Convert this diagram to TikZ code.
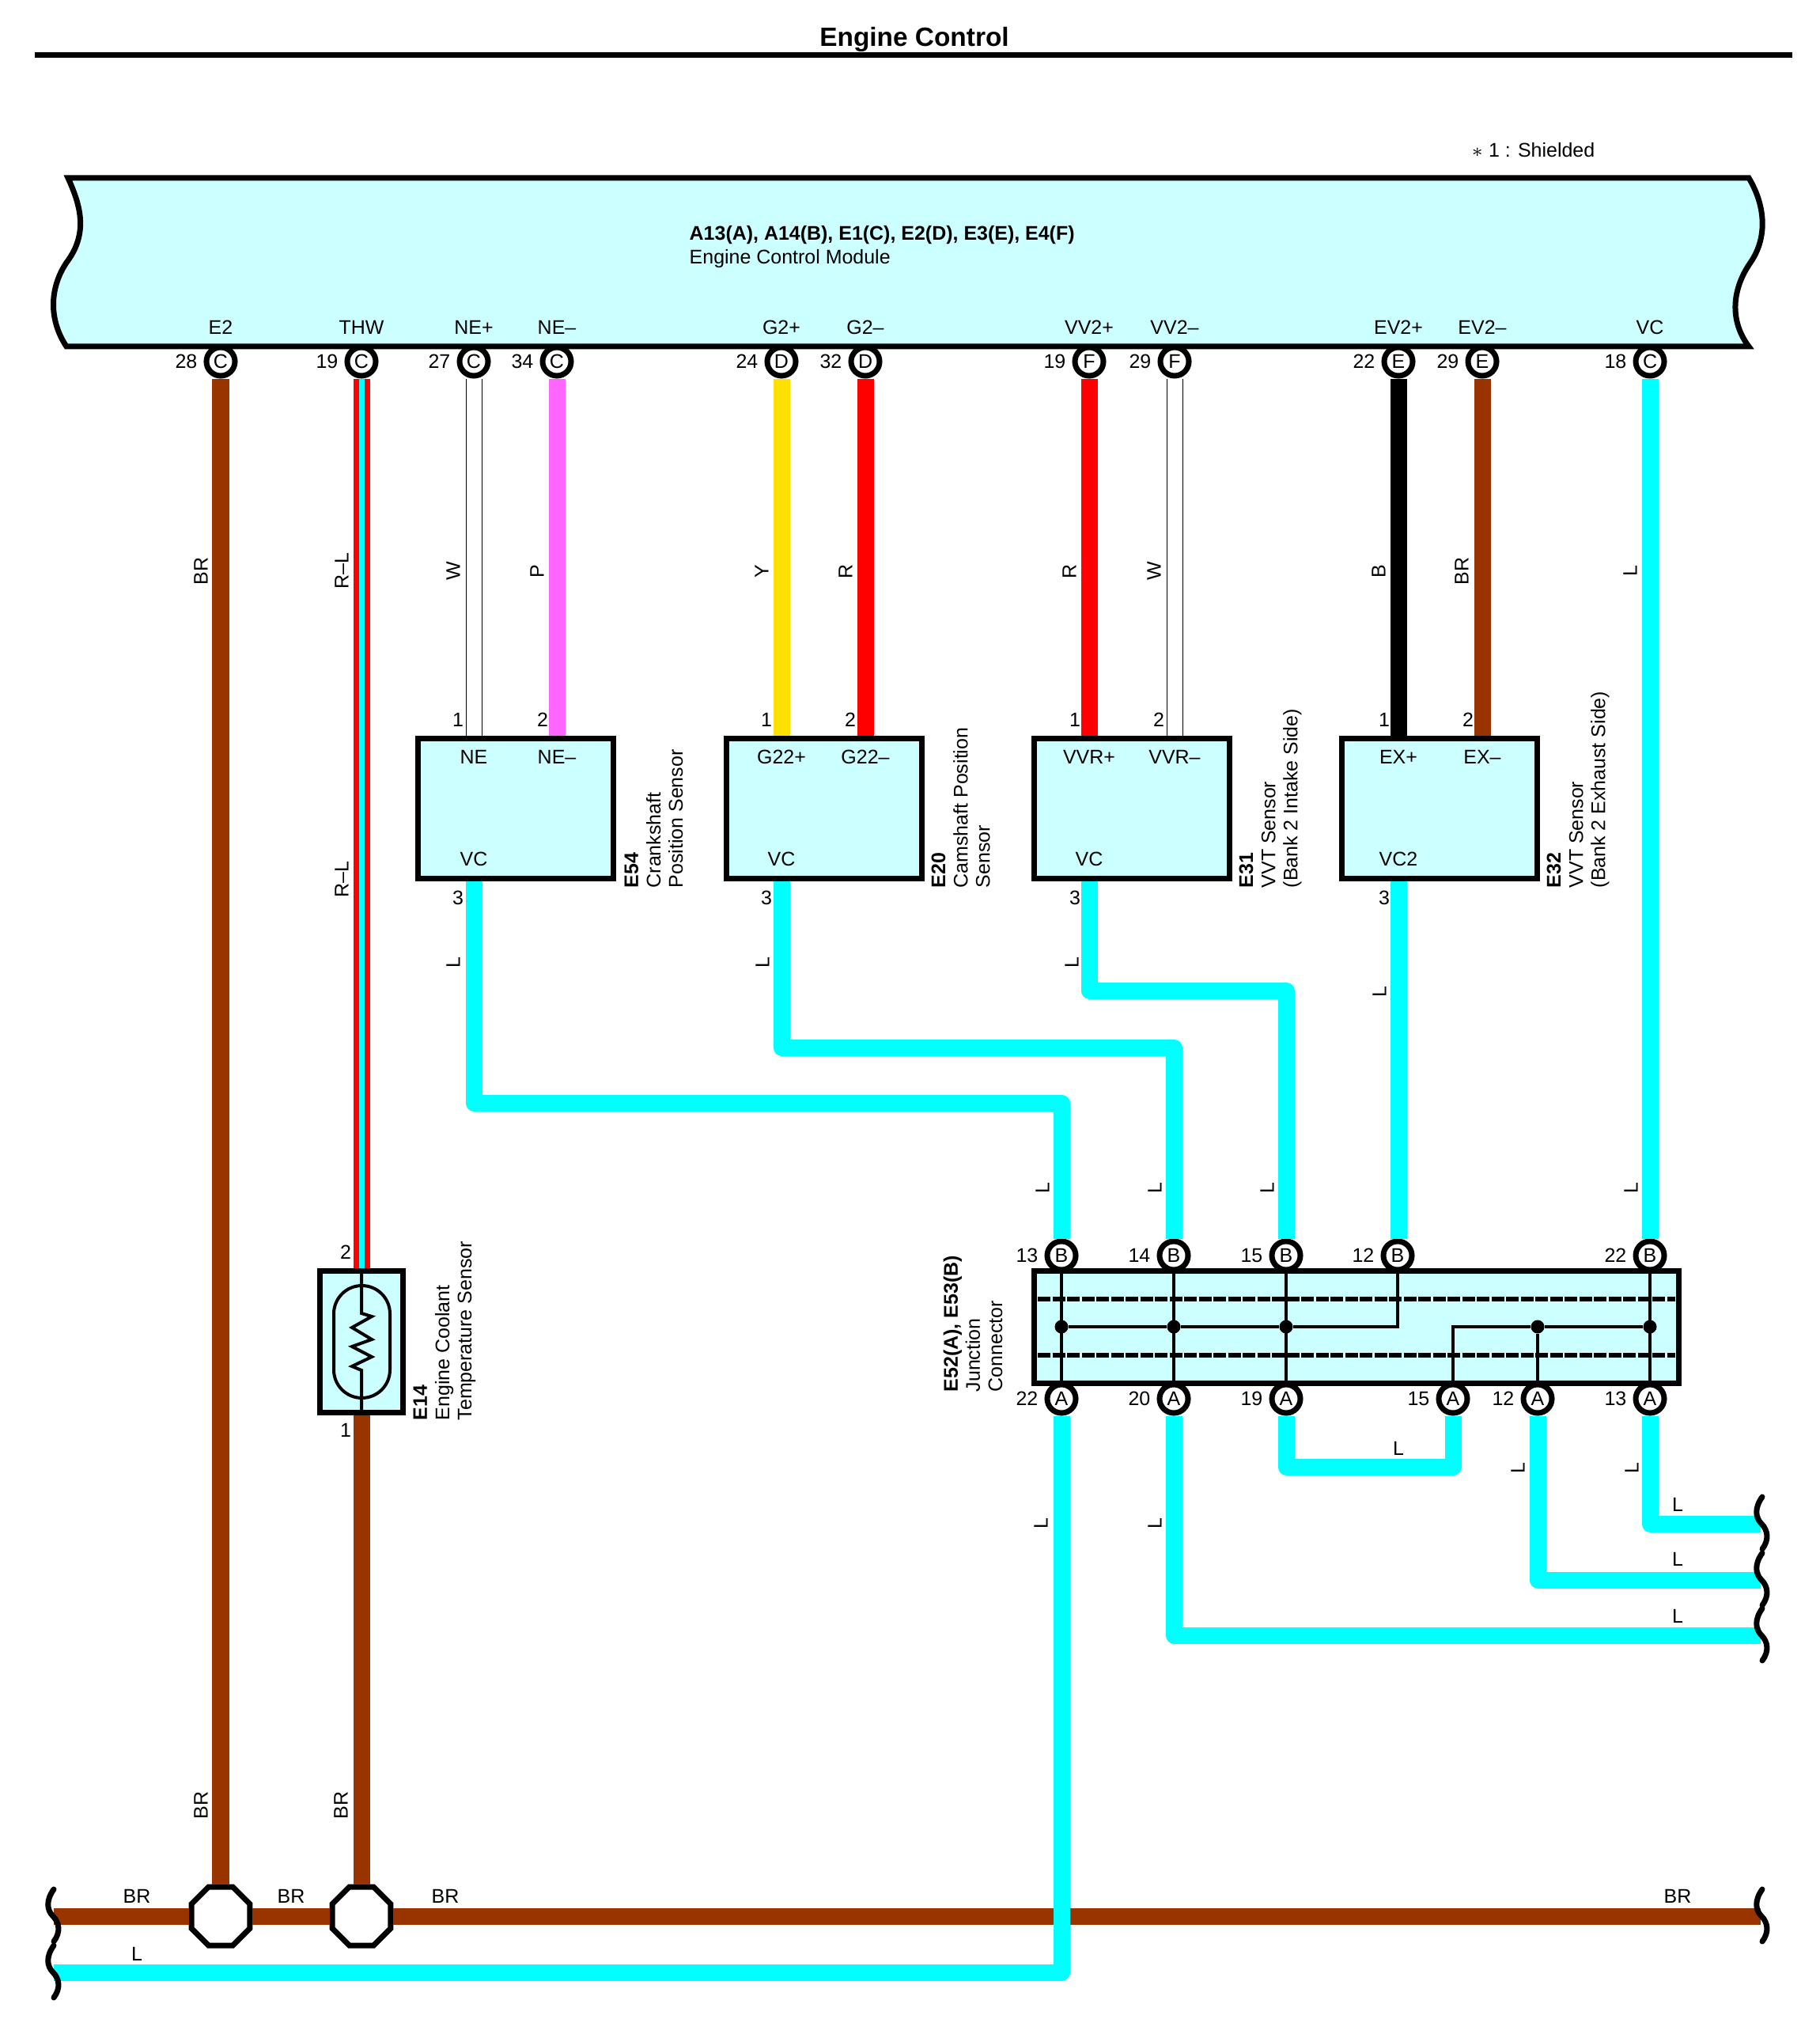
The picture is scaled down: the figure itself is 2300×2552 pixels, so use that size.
\documentclass[tikz,border=0pt]{standalone}
\usepackage{fontspec}
\setmainfont{Liberation Sans}
\usetikzlibrary{shapes.geometric}

\tikzset{
  tag/.style={font=\fontsize{7.1}{8}\selectfont,inner sep=0pt},
  wtag/.style={tag,rotate=90},
  caption/.style={tag,rotate=90,anchor=north west,align=left},
  pin/.style={tag,circle,draw=black,fill=white,line width=0.07cm,minimum size=0.36cm},
  unit/.style={draw=black,fill=boxcyan,line width=0.07cm,inner sep=0pt},
  splice/.style={regular polygon,regular polygon sides=8,draw=black,fill=white,line width=0.07cm,minimum size=0.8cm,inner sep=0pt},
  dot/.style={circle,fill=black,minimum size=0.17cm,inner sep=0pt},
  wire/.style={line width=0.21cm,line join=round},
  lwire/.style={wire,draw=wirecyan},
  brwire/.style={wire,draw=wirebrown},
  rlwire/.style={draw=red,line width=0.07cm,double=wirecyan,double distance=0.07cm},
  wwire/.style={draw=black,line width=0.01cm,double=white,double distance=0.19cm},
  inner/.style={draw=black,line width=0.04cm,line join=miter},
  shield/.style={draw=black,line width=0.055cm,dash pattern=on 0.16cm off 0.025cm},
  brk/.style={draw=black,line width=0.07cm,line cap=round}
}
\definecolor{boxcyan}{HTML}{CCFFFF}
\definecolor{wirecyan}{HTML}{00FFFF}
\definecolor{wirebrown}{HTML}{993300}
\definecolor{wirepink}{HTML}{FF66FF}
\definecolor{wireyellow}{HTML}{FFE000}

\newcommand{\wirebreak}[1]{\draw[brk,shift={(#1)}] (6,-34) .. controls (-4,-20) and (-3,-8) .. (5,0) .. controls (13,8) and (15,20) .. (6,32);}

\begin{document}
\begin{tikzpicture}[x=0.01cm,y=-0.01cm]
        \useasboundingbox (0,0) rectangle (2300,2552);

        % Title
        \node[font=\fontsize{9.5}{10}\selectfont\bfseries,inner sep=0pt] (title) at (1156,50) {Engine Control};
        \coordinate (ruleL) at (44,70);
        \coordinate (ruleR) at (2266,70);
        \draw[line width=0.07cm] (ruleL) -- (ruleR);
        \node[tag,anchor=west] (shielded) at (1860,190) {$\ast$ 1 : Shielded};

        % Engine Control Module
        \draw[unit] (86,225) -- (2211,225) .. controls (2232,260) and (2235,300) .. (2213,332)
            .. controls (2190,365) and (2186,405) .. (2211,438) -- (84,438)
            .. controls (62,405) and (62,365) .. (84,332) .. controls (112,295) and (102,260) .. cycle;
        \node[tag,anchor=west] (ecmParts) at (871,297) {\textbf{A13(A), A14(B), E1(C), E2(D), E3(E), E4(F)}};
        \node[tag,anchor=west] (ecmName) at (871,327) {Engine Control Module};

        % ECM terminals
        \node[pin] (E2) at (279,457) {C};
        \node[pin] (THW) at (457,457) {C};
        \node[pin] (NEp) at (599,457) {C};
        \node[pin] (NEm) at (704,457) {C};
        \node[pin] (Gp) at (988,457) {D};
        \node[pin] (Gm) at (1094,457) {D};
        \node[pin] (VVp) at (1377,457) {F};
        \node[pin] (VVm) at (1485,457) {F};
        \node[pin] (EVp) at (1768,457) {E};
        \node[pin] (EVm) at (1874,457) {E};
        \node[pin] (VC) at (2086,457) {C};

        \node[tag] (txtE2) at (279,414) {E2};
        \node[tag] (txtTHW) at (457,414) {THW};
        \node[tag] (txtNEp) at (599,414) {NE+};
        \node[tag] (txtNEm) at (704,414) {NE--};
        \node[tag] (txtGp) at (988,414) {G2+};
        \node[tag] (txtGm) at (1094,414) {G2--};
        \node[tag] (txtVVp) at (1377,414) {VV2+};
        \node[tag] (txtVVm) at (1485,414) {VV2--};
        \node[tag] (txtEVp) at (1768,414) {EV2+};
        \node[tag] (txtEVm) at (1874,414) {EV2--};
        \node[tag] (txtVC) at (2086,414) {VC};

        \node[tag,anchor=east] (numE2) at (250,457) {28};
        \node[tag,anchor=east] (numTHW) at (428,457) {19};
        \node[tag,anchor=east] (numNEp) at (570,457) {27};
        \node[tag,anchor=east] (numNEm) at (675,457) {34};
        \node[tag,anchor=east] (numGp) at (959,457) {24};
        \node[tag,anchor=east] (numGm) at (1065,457) {32};
        \node[tag,anchor=east] (numVVp) at (1348,457) {19};
        \node[tag,anchor=east] (numVVm) at (1456,457) {29};
        \node[tag,anchor=east] (numEVp) at (1739,457) {22};
        \node[tag,anchor=east] (numEVm) at (1845,457) {29};
        \node[tag,anchor=east] (numVC) at (2057,457) {18};

        % Sensors
        \node[unit,minimum width=2.47cm,minimum height=1.77cm] (crank) at (652,1022) {};
        \node[unit,minimum width=2.47cm,minimum height=1.77cm] (cam) at (1042,1022) {};
        \node[unit,minimum width=2.47cm,minimum height=1.77cm] (vvtIn) at (1431,1022) {};
        \node[unit,minimum width=2.47cm,minimum height=1.77cm] (vvtEx) at (1820,1022) {};
        \node[unit,minimum width=1.05cm,minimum height=1.78cm] (coolant) at (457,1696) {};

        \node[tag] (crankA) at (599,957) {NE};
        \node[tag] (crankB) at (704,957) {NE--};
        \node[tag] (crankC) at (599,1086) {VC};
        \node[tag] (camA) at (988,957) {G22+};
        \node[tag] (camB) at (1094,957) {G22--};
        \node[tag] (camC) at (988,1086) {VC};
        \node[tag] (vvtInA) at (1377,957) {VVR+};
        \node[tag] (vvtInB) at (1485,957) {VVR--};
        \node[tag] (vvtInC) at (1377,1086) {VC};
        \node[tag] (vvtExA) at (1768,957) {EX+};
        \node[tag] (vvtExB) at (1874,957) {EX--};
        \node[tag] (vvtExC) at (1768,1086) {VC2};

        \node[tag] (crank1) at (579,910) {1};
        \node[tag] (crank2) at (686,910) {2};
        \node[tag] (crank3) at (579,1135) {3};
        \node[tag] (cam1) at (969,910) {1};
        \node[tag] (cam2) at (1075,910) {2};
        \node[tag] (cam3) at (969,1135) {3};
        \node[tag] (vvtIn1) at (1359,910) {1};
        \node[tag] (vvtIn2) at (1465,910) {2};
        \node[tag] (vvtIn3) at (1359,1135) {3};
        \node[tag] (vvtEx1) at (1750,910) {1};
        \node[tag] (vvtEx2) at (1856,910) {2};
        \node[tag] (vvtEx3) at (1750,1135) {3};
        \node[tag] (coolant2) at (437,1583) {2};
        \node[tag] (coolant1) at (437,1808) {1};

        \node[caption] (capCrank) at (789,1123) {\textbf{E54}\\Crankshaft\\Position Sensor};
        \node[caption] (capCam) at (1177,1123) {\textbf{E20}\\Camshaft Position\\Sensor};
        \node[caption] (capIn) at (1566,1123) {\textbf{E31}\\VVT Sensor\\(Bank 2 Intake Side)};
        \node[caption] (capEx) at (1955,1123) {\textbf{E32}\\VVT Sensor\\(Bank 2 Exhaust Side)};
        \node[caption] (capCoolant) at (522,1796) {\textbf{E14}\\Engine Coolant\\Temperature Sensor};
        \node[caption] (capJunction) at (1192,1760) {\textbf{E52(A), E53(B)}\\Junction\\Connector};

        % Thermistor symbol
        \draw[inner,rounded corners=0.355cm] (422,1625) rectangle (493,1767);
        \draw[inner] (coolant.north) -- (457,1660) -- (470,1664) -- (445,1678) -- (470,1693) -- (445,1702)
            -- (470,1715) -- (445,1727) -- (457,1732) -- (coolant.south);

        % Junction connector
        \node[unit,minimum width=8.15cm,minimum height=1.41cm] (junction) at (1715,1677.5) {};
        \coordinate (shieldA) at (1312,1642);
        \coordinate (shieldB) at (2118,1642);
        \coordinate (shieldC) at (1312,1713);
        \coordinate (shieldD) at (2118,1713);
        \draw[shield] (shieldA) -- (shieldB);
        \draw[shield] (shieldC) -- (shieldD);

        \node[pin] (jB13) at (1342,1587) {B};
        \node[pin] (jB14) at (1484,1587) {B};
        \node[pin] (jB15) at (1626,1587) {B};
        \node[pin] (jB12) at (1767,1587) {B};
        \node[pin] (jB22) at (2086,1587) {B};
        \node[pin] (jA22) at (1342,1768) {A};
        \node[pin] (jA20) at (1484,1768) {A};
        \node[pin] (jA19) at (1626,1768) {A};
        \node[pin] (jA15) at (1837,1768) {A};
        \node[pin] (jA12) at (1944,1768) {A};
        \node[pin] (jA13) at (2086,1768) {A};

        \node[tag,anchor=east] (numB13) at (1313,1587) {13};
        \node[tag,anchor=east] (numB14) at (1455,1587) {14};
        \node[tag,anchor=east] (numB15) at (1597,1587) {15};
        \node[tag,anchor=east] (numB12) at (1738,1587) {12};
        \node[tag,anchor=east] (numB22) at (2057,1587) {22};
        \node[tag,anchor=east] (numA22) at (1313,1768) {22};
        \node[tag,anchor=east] (numA20) at (1455,1768) {20};
        \node[tag,anchor=east] (numA19) at (1597,1768) {19};
        \node[tag,anchor=east] (numA15) at (1808,1768) {15};
        \node[tag,anchor=east] (numA12) at (1915,1768) {12};
        \node[tag,anchor=east] (numA13) at (2057,1768) {13};

        \node[dot] (d1) at (1342,1677) {};
        \node[dot] (d2) at (1484,1677) {};
        \node[dot] (d3) at (1626,1677) {};
        \node[dot] (d4) at (1944,1677) {};
        \node[dot] (d5) at (2086,1677) {};
        \coordinate (bendB) at (1767,1677);
        \coordinate (bendA) at (1837,1677);

        \draw[inner] (jB13) -- (jA22);
        \draw[inner] (jB14) -- (jA20);
        \draw[inner] (jB15) -- (jA19);
        \draw[inner] (jB22) -- (jA13);
        \draw[inner] (d1) -- (d2);
        \draw[inner] (d2) -- (d3);
        \draw[inner] (d3) -- (bendB) -- (jB12);
        \draw[inner] (jA15) -- (bendA) -- (d4);
        \draw[inner] (d4) -- (d5);
        \draw[inner] (d4) -- (jA12);

        % Ground bus
        \node[splice] (sp1) at (279,2422) {};
        \node[splice] (sp2) at (457,2422) {};
        \coordinate (busL) at (68,2422);
        \coordinate (busR) at (2226,2422);
        \coordinate (retL) at (68,2493);
        \draw[brwire] (busL) -- (sp1);
        \draw[brwire] (sp1) -- (sp2);
        \draw[brwire] (sp2) -- (busR);
        \draw[brwire] (E2) -- (sp1);
        \draw[brwire] (coolant) -- (sp2);

        % Wires to the sensors
        \draw[rlwire] (THW) -- (coolant);
        \draw[wwire] (NEp) -- (NEp |- crank.north);
        \draw[wire,draw=wirepink] (NEm) -- (NEm |- crank.north);
        \draw[wire,draw=wireyellow] (Gp) -- (Gp |- cam.north);
        \draw[wire,draw=red] (Gm) -- (Gm |- cam.north);
        \draw[wire,draw=red] (VVp) -- (VVp |- vvtIn.north);
        \draw[wwire] (VVm) -- (VVm |- vvtIn.north);
        \draw[wire,draw=black] (EVp) -- (EVp |- vvtEx.north);
        \draw[brwire] (EVm) -- (EVm |- vvtEx.north);

        % Wires to the junction connector
        \coordinate (r1a) at (599,1394);
        \coordinate (r1b) at (1342,1394);
        \coordinate (r2a) at (988,1324);
        \coordinate (r2b) at (1484,1324);
        \coordinate (r3a) at (1377,1252);
        \coordinate (r3b) at (1626,1252);
        \draw[lwire] (r1a |- crank.south) -- (r1a) -- (r1b) -- (jB13);
        \draw[lwire] (r2a |- cam.south) -- (r2a) -- (r2b) -- (jB14);
        \draw[lwire] (r3a |- vvtIn.south) -- (r3a) -- (r3b) -- (jB15);
        \draw[lwire] (EVp |- vvtEx.south) -- (EVp |- jB12.north);
        \draw[lwire] (VC) -- (jB22);

        % Wires from the junction connector
        \coordinate (r4a) at (1626,1854);
        \coordinate (r4b) at (1837,1854);
        \coordinate (r5a) at (2086,1926);
        \coordinate (r5b) at (2226,1926);
        \coordinate (r6a) at (1944,1997);
        \coordinate (r6b) at (2226,1997);
        \coordinate (r7a) at (1484,2067);
        \coordinate (r7b) at (2226,2067);
        \coordinate (r8a) at (1342,2493);
        \draw[lwire] (jA19) -- (r4a) -- (r4b) -- (jA15);
        \draw[lwire] (jA13) -- (r5a) -- (r5b);
        \draw[lwire] (jA12) -- (r6a) -- (r6b);
        \draw[lwire] (jA20) -- (r7a) -- (r7b);
        \draw[lwire] (jA22) -- (r8a) -- (retL);

        % Wire breaks
        \wirebreak{2222,1926}
        \wirebreak{2222,1997}
        \wirebreak{2222,2067}
        \wirebreak{2222,2422}
        \wirebreak{62,2422}
        \wirebreak{62,2493}

        % Wire colour labels
        \node[wtag] (w1) at (254,722) {BR};
        \node[wtag] (w2) at (432,722) {R--L};
        \node[wtag] (w3) at (432,1112) {R--L};
        \node[wtag] (w4) at (573,722) {W};
        \node[wtag] (w5) at (679,722) {P};
        \node[wtag] (w6) at (963,722) {Y};
        \node[wtag] (w7) at (1069,722) {R};
        \node[wtag] (w8) at (1352,722) {R};
        \node[wtag] (w9) at (1459,722) {W};
        \node[wtag] (w10) at (1743,722) {B};
        \node[wtag] (w11) at (1848,722) {BR};
        \node[wtag] (w12) at (2061,722) {L};
        \node[wtag] (w13) at (573,1217) {L};
        \node[wtag] (w14) at (964,1217) {L};
        \node[wtag] (w15) at (1355,1217) {L};
        \node[wtag] (w16) at (1744,1254) {L};
        \node[wtag] (w17) at (1318,1502) {L};
        \node[wtag] (w18) at (1460,1502) {L};
        \node[wtag] (w19) at (1602,1502) {L};
        \node[wtag] (w20) at (2062,1502) {L};
        \node[wtag] (w21) at (1316,1926) {L};
        \node[wtag] (w22) at (1460,1926) {L};
        \node[wtag] (w23) at (1919,1856) {L};
        \node[wtag] (w24) at (2063,1856) {L};
        \node[wtag] (w25) at (254,2282) {BR};
        \node[wtag] (w26) at (431,2282) {BR};
        \node[tag] (w27) at (1768,1831) {L};
        \node[tag] (w28) at (2121,1902) {L};
        \node[tag] (w29) at (2121,1971) {L};
        \node[tag] (w30) at (2121,2043) {L};
        \node[tag] (w31) at (173,2397) {BR};
        \node[tag] (w32) at (368,2397) {BR};
        \node[tag] (w33) at (563,2397) {BR};
        \node[tag] (w34) at (2121,2397) {BR};
        \node[tag] (w35) at (173,2470) {L};

\end{tikzpicture}
\end{document}
